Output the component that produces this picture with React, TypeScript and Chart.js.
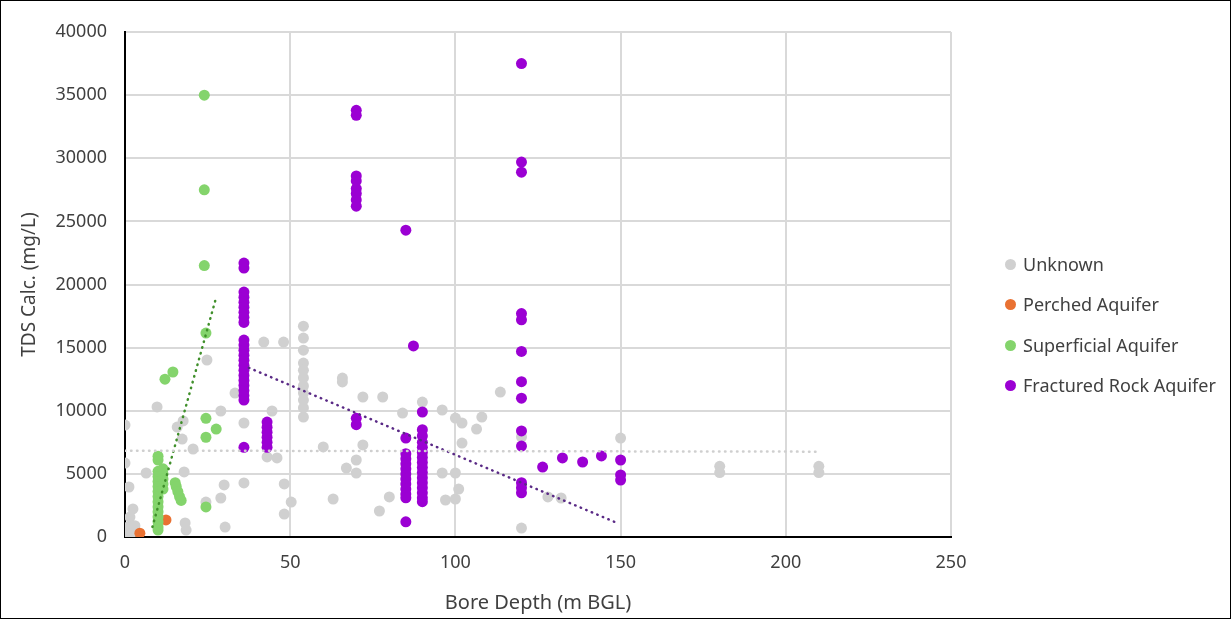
import { useEffect, useRef } from 'react';
import { Chart, registerables } from 'chart.js';

Chart.register(...registerables);

// Bore depth (m BGL), TDS (mg/L)
const unknownPts: [number, number][] = [
  [0, 8870], [0, 5860], [1.2, 3960], [2.4, 2220], [1.5, 1580], [1, 790], [2.4, 400], [0.5, 200], [3, 900],
  [9.7, 10300], [6.4, 5070], [15.8, 8710], [17.6, 9190], [17.3, 7760], [20.6, 6970], [17.9, 5150],
  [30, 4120], [36, 4280], [29, 3090], [24.5, 2770], [18.2, 1110], [18.5, 550], [30.3, 790],
  [29, 9980], [44.5, 9980], [36, 9030], [43, 6340], [46, 6260], [48.2, 4200], [50.3, 2770], [48.2, 1820],
  [42, 15440], [48, 15440], [24.8, 14020], [33.3, 11400],
  [54, 16700], [54, 15760], [54, 14800], [54, 13780], [54, 13200], [54, 12600], [54, 11960], [54, 11400],
  [54, 10850], [54, 10220], [54, 9500],
  [65.8, 12590], [65.8, 12280], [72, 11090], [78, 11090], [60, 7130], [72, 7290], [70, 6100], [67, 5460],
  [70, 5070], [63, 3010], [80, 3170], [77, 2060], [84, 9820], [90, 10690], [96, 10060], [100, 9420],
  [102, 9030], [106.4, 8550], [108, 9500], [102, 7440], [96, 5070], [100, 5070], [101, 3800], [97, 2930],
  [100, 3010], [113.6, 11480], [128, 3170], [132, 3090], [120, 710], [150, 7840], [120, 7920],
  [180, 5600], [180, 5100], [210, 5600], [210, 5100],
];

const perchedPts: [number, number][] = [
  [4.5, 300], [12.4, 1350],
];

const superficialPts: [number, number][] = [
  [24, 35000], [24, 27500], [24, 21500], [24.5, 16150], [24.5, 9400], [27.6, 8550], [24.5, 7900], [24.5, 2380],
  [12.1, 12500], [14.5, 13070],
  [10, 6400], [10, 6100], [10, 5200], [10, 4800], [10, 4400], [10, 4000], [10, 3600], [10, 3200], [10, 2800],
  [10, 2400], [10, 2000], [10, 1600], [10, 1200], [10, 800], [10, 550],
  [11.5, 5400], [11.5, 5000], [11.5, 4600], [11.5, 4200], [11.5, 3800],
  [15.2, 4300], [15.5, 4000], [16, 3600], [16.5, 3200], [17, 2900],
];

const fracturedPts: [number, number][] = [
  [36, 21700], [36, 21300], [36, 19400], [36, 19000], [36, 18600], [36, 18200], [36, 17800], [36, 17400],
  [36, 17000], [36, 15600], [36, 15200], [36, 14800], [36, 14400], [36, 14000], [36, 13600], [36, 13200],
  [36, 12800], [36, 12400], [36, 12000], [36, 11600], [36, 11200], [36, 10850], [36, 7100],
  [43, 9100], [43, 8700], [43, 8300], [43, 7900], [43, 7500], [43, 7100],
  [70, 33800], [70, 33400], [70, 28600], [70, 28200], [70, 27600], [70, 27200], [70, 26700], [70, 26200],
  [70, 9400], [70, 8900],
  [85, 24300], [85, 7840], [85, 6600], [85, 6200], [85, 5800], [85, 5400], [85, 5000], [85, 4600], [85, 4200],
  [85, 3800], [85, 3400], [85, 3100], [85, 1200],
  [87.3, 15130],
  [90, 9900], [90, 8500], [90, 8000], [90, 7500], [90, 7100], [90, 6700], [90, 6300], [90, 5900], [90, 5500],
  [90, 5100], [90, 4700], [90, 4300], [90, 3900], [90, 3500], [90, 3100], [90, 2800],
  [120, 37500], [120, 29700], [120, 28900], [120, 17700], [120, 17200], [120, 14700], [120, 12300],
  [120, 11000], [120, 8400], [120, 7200], [120, 4300], [120, 3900], [120, 3500],
  [126.4, 5540], [132.4, 6260], [138.5, 5940], [144.2, 6420], [150, 6100], [150, 4910], [150, 4510],
];

// Trendline end points
const trendUnknown: [number, number][] = [[0, 6840], [210, 6760]];
const trendSuperficial: [number, number][] = [[8.3, 800], [27.3, 18700]];
const trendFractured: [number, number][] = [[37.5, 13400], [149.5, 1050]];

const seriesLabels = ['Unknown', 'Perched Aquifer', 'Superficial Aquifer', 'Fractured Rock Aquifer'];
const seriesColors = ['#d0d0d0', '#e97132', '#84d46c', '#9b00d3'];
const trendColors = ['#cfcfcf', '#3f8f2a', '#5a2a86'];

const FONT = '"Noto Sans", sans-serif';
const TEXT = '#404040';

const toXY = (a: [number, number][]) => a.map(([x, y]) => ({ x, y }));

export default function App() {
  const ref = useRef<HTMLCanvasElement>(null);

  useEffect(() => {
    document.body.style.margin = '0';
    const canvas = ref.current;
    if (!canvas) return;
    const pts = [unknownPts, perchedPts, superficialPts, fracturedPts];
    const orders = [4, 3, 2, 1];
    const pointSets = pts.map((p, i) => ({
      label: seriesLabels[i],
      data: toXY(p),
      backgroundColor: seriesColors[i],
      borderWidth: 0,
      pointRadius: 5.5,
      pointHoverRadius: 5.5,
      order: orders[i],
    }));
    const trends = [trendUnknown, trendSuperficial, trendFractured].map((t, i) => ({
      label: 'trend' + i,
      data: toXY(t),
      showLine: true,
      borderColor: trendColors[i],
      backgroundColor: trendColors[i],
      borderWidth: 2.5,
      borderDash: [0.5, 5.5],
      borderCapStyle: 'round' as const,
      pointRadius: 0,
      fill: false,
      order: 0,
    }));

    const chart = new Chart(canvas, {
      type: 'scatter',
      data: { datasets: [...pointSets, ...trends] as any },
      options: {
        animation: false,
        responsive: false,
        maintainAspectRatio: false,
        layout: { padding: { top: 32, right: 280, left: 0, bottom: 0 } },
        plugins: { legend: { display: false }, tooltip: { enabled: false } },
        scales: {
          x: {
            type: 'linear',
            min: 0,
            max: 250,
            ticks: { stepSize: 50, padding: 15, color: TEXT, font: { family: FONT, size: 18 }, callback: (v: any) => String(v) },
            grid: { color: '#d9d9d9', lineWidth: 2, drawTicks: false },
            border: { color: '#000', width: 2 },
            title: {
              display: true,
              text: 'Bore Depth (m BGL)',
              color: TEXT,
              font: { family: FONT, size: 20 },
              padding: { top: 0, bottom: 4 },
            },
            afterFit: (s: any) => { s.height = 82; },
          },
          y: {
            type: 'linear',
            min: 0,
            max: 40000,
            ticks: { stepSize: 5000, padding: 18, color: TEXT, font: { family: FONT, size: 18 }, callback: (v: any) => String(v) },
            grid: { color: '#d9d9d9', lineWidth: 2, drawTicks: false },
            border: { color: '#000', width: 2 },
            title: {
              display: true,
              text: 'TDS Calc. (mg/L)',
              color: TEXT,
              font: { family: FONT, size: 19 },
              padding: { top: 18, bottom: 0 },
            },
            afterFit: (s: any) => { s.width = 125; },
          },
        },
      },
    });
    return () => chart.destroy();
  }, []);

  const legendY = [264, 304, 345, 385];

  return (
    <div style={{ position: 'relative', width: 1231, height: 619, background: '#fff', overflow: 'hidden' }}>
      <canvas ref={ref} width={1231} height={619} style={{ position: 'absolute', left: 0, top: 0, width: 1231, height: 619 }} />
      {seriesLabels.map((l, i) => (
        <div key={l} style={{ position: 'absolute', left: 1005, top: legendY[i] - 13, height: 26, display: 'flex', alignItems: 'center', fontFamily: FONT, fontSize: 18, color: TEXT, whiteSpace: 'nowrap' }}>
          <span style={{ display: 'inline-block', width: 11, height: 11, borderRadius: '50%', background: seriesColors[i], marginRight: 7 }} />
          <span>{l}</span>
        </div>
      ))}
      <div style={{ position: 'absolute', left: 0, top: 0, width: 1231, height: 619, boxSizing: 'border-box', border: '1px solid #000', pointerEvents: 'none' }} />
    </div>
  );
}
